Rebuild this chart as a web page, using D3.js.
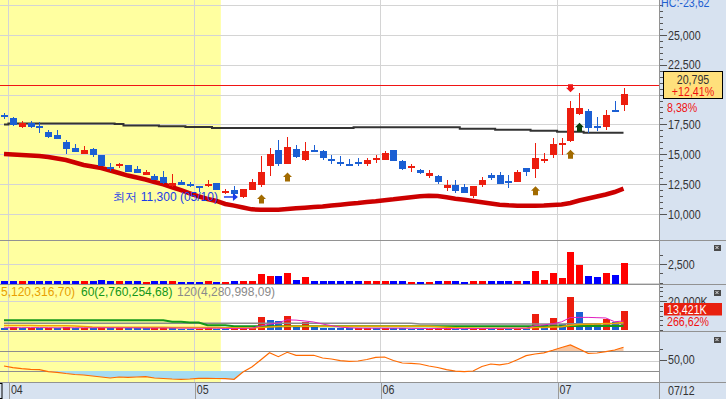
<!DOCTYPE html>
<html><head><meta charset="utf-8">
<script src="https://cdn.jsdelivr.net/npm/d3@7/dist/d3.min.js"></script>
<style>
html,body{margin:0;padding:0;background:#fff;}
svg{display:block;}
text{font-family:"Liberation Sans",Arial,sans-serif;}
</style></head><body>
<svg id="chart" width="726" height="399"></svg>
<script>
// ---------------- DATA ----------------
const opens = [18300,18000,17300,17650,17400,16900,16650,16050,15550,15000,
  15450,14900,13950,14000,14100,13750,13300,13200,13100,12350,
  12700,12550,12350,12350,12600,11750,12000,11450,12000,12450,
  14050,15350,14150,15450,14550,15350,15300,14600,14350,14200,
  14350,14200,14550,14500,15350,14450,13950,13700,13200,13200,
  12200,12450,12250,11500,12450,13250,13250,12750,12700,13850,
  13750,14450,14900,15800,16100,18400,18650,17350,17300,18700,
  19150];
const highs = [18450,18150,17800,17750,17700,17050,17050,16200,15850,15700,
  15550,14900,14250,14250,14100,14000,13700,13350,13600,13350,
  12850,12700,12350,12850,12600,12100,12350,12100,12900,14850,
  15550,16200,16450,15800,16050,15800,15350,14900,14850,14600,
  14700,14700,14900,15300,15400,14500,14200,13750,13700,13250,
  12850,12850,12500,12350,13100,13400,13500,13250,13700,13850,
  15950,15100,16350,16350,19450,20150,18800,18100,18700,19450,
  20550];
const lows = [17950,17350,17200,17200,16750,16400,16300,15000,15200,15000,
  14800,14000,13600,13850,13550,13400,13300,12850,12550,12300,
  12400,12300,11850,12300,12050,11700,11450,11300,12000,12300,
  13200,14050,14150,14700,14450,15150,14550,14150,14050,14050,
  14050,14050,14250,14500,14450,13700,13500,13350,13050,12550,
  11950,11800,11750,11350,12250,12850,12500,12200,12700,13200,
  13000,14250,14700,14950,16050,18300,16800,16950,17050,18500,
  18650];
const closes = [18100,17450,17600,17300,17200,16450,16300,15450,15200,15350,
  14900,14000,13850,14150,13550,13450,13550,12850,12600,12600,
  12450,12400,12250,12550,12050,11950,11700,12100,12700,13500,
  15000,14200,15650,14800,15300,15200,14650,14450,14150,14100,
  14150,14500,14650,15100,14450,13800,14050,13450,13450,12700,
  12450,11950,11800,12350,12850,13000,12500,12600,13500,13500,
  14700,14600,15850,15950,18900,18900,17200,17200,18300,18500,
  20050];
// long moving average (dark line)
const maLong = [17500,17580,17580,17580,17580,17580,17580,17580,17580,17580,
  17580,17580,17580,17540,17400,17400,17400,17400,17350,17350,
  17350,17280,17280,17280,17200,17200,17200,17200,17200,17200,
  17200,17200,17200,17200,17200,17200,17200,17200,17200,17200,
  17260,17260,17260,17260,17260,17260,17260,17260,17260,17260,
  17260,17260,17140,17140,17140,17140,17060,17060,17060,17060,
  16980,16980,16980,16890,16890,16890,16810,16810,16810,16810,
  16810];
// thick red line
const maRed = [15020,14980,14940,14900,14860,14770,14650,14520,14310,14100,
  13980,13850,13640,13430,13220,13060,12890,12680,12490,12240,
  11990,11730,11480,11260,11090,10840,10700,10540,10390,10360,
  10360,10360,10420,10480,10530,10590,10630,10710,10780,10860,
  10920,11000,11070,11160,11230,11320,11400,11480,11520,11510,
  11400,11280,11190,11090,10980,10880,10780,10730,10700,10700,
  10700,10710,10750,10800,10920,11130,11300,11470,11630,11840,
  12120];
const volume = [270,270,270,270,270,270,270,270,270,270,
  270,400,270,270,270,270,140,270,270,270,
  140,140,140,270,140,140,270,270,270,1200,
  900,900,1340,400,800,270,270,270,270,270,
  270,270,270,270,270,270,140,140,140,270,
  270,270,140,270,270,270,270,270,270,270,
  1600,400,1340,670,4100,2400,940,800,1340,1070,
  2670];
const tradeValue = [1600,2100,1500,1700,1400,1500,1300,2000,1400,1600,
  1300,2000,1300,1500,1400,1300,1200,1300,1600,1400,
  1000,900,1000,1400,1000,900,1200,1300,1700,8970,
  6900,6200,9860,2760,5310,2550,1500,1300,1200,1100,
  1200,1300,1100,1400,1300,1200,800,700,800,1100,
  1200,1000,700,1100,1300,1200,1300,1100,1200,1100,
  11030,3240,8280,4140,22760,12410,4140,4100,7790,5520,
  13421];
const tvMa5 = [1500,1550,1600,1650,1650,1600,1500,1550,1550,1550,
  1500,1550,1550,1500,1500,1450,1350,1350,1400,1350,
  1300,1250,1200,1250,1250,1100,1100,1150,1250,2800,
  4000,5000,7000,6800,6200,5500,4100,3000,2000,1500,
  1300,1250,1250,1250,1250,1250,1150,1050,1000,1000,
  1000,950,950,1000,1050,1100,1100,1200,1200,1200,
  3000,3500,4300,5600,8600,8700,8700,8500,8300,5700,
  6200];
const tvMa20 = [3100,3100,3100,3050,3000,3000,2950,2900,2800,2400,
  2000,1950,1900,1900,1900,1850,1850,1850,1850,1800,
  1800,1750,1750,1700,1650,1600,1550,1500,1450,1800,
  2100,2350,2600,2650,2650,2650,2650,2650,2650,2650,
  2650,2650,2600,2600,2600,2600,2550,2550,2550,2300,
  1900,1600,1350,1300,1250,1250,1200,1200,1200,1200,
  1700,1800,2100,2250,3300,3850,3950,4100,4400,4600,
  5120];
const tvMa60 = [6700,6700,6700,6700,6700,6700,6700,6700,6700,6700,
  6700,6700,6700,6700,6700,6700,6700,6700,6700,5700,
  5700,5200,5200,3250,3250,3250,2550,2550,2550,2550,
  2550,2550,2550,2550,2550,2550,2550,2550,2550,2550,
  2550,2550,2550,2550,2550,2550,2550,2550,2550,2550,
  2550,2550,2550,2550,2550,2550,2550,2550,2550,2550,
  2600,2620,2640,2660,2700,2720,2730,2740,2750,2755,
  2760];
const tvMa120 = [4600,4600,4600,4600,4600,4600,4600,4600,4600,4600,
  4600,4600,4600,4600,4600,4600,4600,4600,4600,4600,
  4600,4600,4600,4600,4600,4600,4600,4600,4600,4600,
  4600,4600,4600,4600,4600,4600,4600,4600,4600,4600,
  4600,4600,4600,4600,4600,4600,4600,4150,4150,4150,
  4150,4150,4150,4150,4150,4150,4150,4150,4150,4150,
  4180,4190,4200,4210,4250,4260,4265,4270,4275,4278,
  4281];
const oscillator = [40,36.6,34.6,33.4,32.6,28.6,27.4,25,23,22,
  20,18,16,18,17.4,18,18.6,16,15,14,
  13.4,14,15.4,15.4,15,14.6,13.4,28,38,52,
  66.6,58.6,67.4,61.4,61.4,61.4,56,54,50.6,49.4,
  50,53,57.4,58,51,46,45.4,44,40,37,
  32.6,29.6,28.6,30,39,44,42.4,45,52.6,60.6,
  64,66.4,71.4,77,82,74,65.4,66,68.6,72,
  77.4];
const monthTicks = [0.5, 21.5, 42.5, 62.5];
const monthLabels = ["04","05","06","07"];
const lastDateLabel = "07/12";
const priceTicks = [10000,12500,15000,17500,20000,22500,25000];
const priceGrid = [10000,12500,15000,17500,20000,22500,25000,27500];
const crossPrice = 20795;
const lowDateLabel = "05/10";
const buyArrows = [29, 32, 60, 64];
const greenArrows = [65];
const sellArrows = [64];
const shadedUntil = 24.5;
const hcLabel = "HC:-23,62";
const vmaLegend = [
  {text:"5,120,316,70)", color:"#e8a000", x:1},
  {text:"60(2,760,254,68)", color:"#13961a", x:81},
  {text:"120(4,280,998,09)", color:"#8a8a8a", x:177}
];
const vmaRatioLabel = "266,62%";

// ---------------- SETUP ----------------
const svg = d3.select('#chart');
const W = 726, H = 399, PW = 659;
const UP = '#ec1d0e', DN = '#1b5fd3';
const VUP = '#ff0000', VDN = '#0000ff';
const GRID = '#d4d4d4', BORDER = '#929292', AXBG = '#d7e2f0';
const n = closes.length;

const x = d3.scaleLinear().domain([0, n - 1]).range([4, 623.5]);
const yP = d3.scaleLinear().domain([10000, 27500]).range([214, 5]);
const yV = d3.scaleLinear().domain([0, 2500]).range([282.7, 264]);
const yT = d3.scaleLinear().domain([0, 20000]).range([330, 301]);
const yO = d3.scaleLinear().domain([30, 70]).range([371, 351]);

const fmt = d3.format(",");
const dec2 = v => v.toFixed(2).replace('.', ',');
const SX = 0.82;
function squashAxis(g, sx) {
  g.selectAll('text').each(function () {
    const t = d3.select(this);
    const x0 = +t.attr('x') || 0;
    t.attr('x', x0 / sx).attr('transform', `scale(${sx},1)`);
  });
}
function sqText(g, tx, ty, str, o = {}) {
  const sx = o.sx ?? SX;
  return g.append('text')
    .attr('transform', `translate(${tx},${ty}) scale(${sx},1)`)
    .attr('font-size', o.size || 13)
    .attr('fill', o.color || '#333')
    .attr('text-anchor', o.anchor || 'start')
    .attr('dy', o.dy || '0.35em')
    .text(str);
}

// backgrounds
svg.append('rect').attr('x', 0).attr('y', 0).attr('width', W).attr('height', H).attr('fill', '#fff');
svg.append('rect').attr('x', PW).attr('y', 0).attr('width', W - PW).attr('height', H).attr('fill', AXBG);
svg.append('rect').attr('x', 0).attr('y', 382).attr('width', PW).attr('height', H - 382).attr('fill', AXBG);
svg.append('rect').attr('x', 0).attr('y', 0).attr('width', x(shadedUntil)).attr('height', 382).attr('fill', '#ffffa0');

const plot = svg.append('g');
const crisp = {'shape-rendering': 'crispEdges'};

// grid lines
plot.selectAll('.hg').data(priceGrid).join('line')
  .attr('x1', 0).attr('x2', PW)
  .attr('y1', d => Math.round(yP(d)) + 0.5).attr('y2', d => Math.round(yP(d)) + 0.5)
  .attr('stroke', GRID).attr('shape-rendering', 'crispEdges');
plot.selectAll('.vg').data(monthTicks).join('line')
  .attr('x1', d => Math.round(x(d)) + 0.5).attr('x2', d => Math.round(x(d)) + 0.5)
  .attr('y1', 0).attr('y2', 382)
  .attr('stroke', GRID).attr('shape-rendering', 'crispEdges');
// volume grid
[yV(2500), yV(0)].forEach(v => plot.append('line').attr('x1', 0).attr('x2', PW)
  .attr('y1', Math.round(v) + 0.5).attr('y2', Math.round(v) + 0.5).attr('stroke', GRID).attr('shape-rendering', 'crispEdges'));
plot.append('line').attr('x1', 0).attr('x2', PW).attr('y1', Math.round(yT(20000)) + 0.5).attr('y2', Math.round(yT(20000)) + 0.5)
  .attr('stroke', GRID).attr('shape-rendering', 'crispEdges');
// oscillator levels
[[70, '#8e8e8e'], [50, '#cfcfcf'], [30, '#8e8e8e']].forEach(([v, c]) =>
  plot.append('line').attr('x1', 0).attr('x2', PW).attr('y1', Math.round(yO(v)) + 0.5).attr('y2', Math.round(yO(v)) + 0.5)
    .attr('stroke', c).attr('shape-rendering', 'crispEdges'));

// ---------------- MAIN PRICE ----------------
const idx = d3.range(n);
const clip = svg.append('defs');
clip.append('clipPath').attr('id', 'plotclip').append('rect').attr('x', 0).attr('y', 0).attr('width', PW).attr('height', 382);

const main = svg.append('g').attr('clip-path', 'url(#plotclip)');

// current price line
main.append('line').attr('x1', 0).attr('x2', PW)
  .attr('y1', Math.round(yP(crossPrice)) + 0.5).attr('y2', Math.round(yP(crossPrice)) + 0.5)
  .attr('stroke', '#f01414').attr('stroke-width', 1).attr('shape-rendering', 'crispEdges');

// dark long MA
main.append('path').datum(idx)
  .attr('d', d3.line().x(i => x(i)).y(i => yP(maLong[i])).curve(d3.curveStep))
  .attr('fill', 'none').attr('stroke', '#333').attr('stroke-width', 2);
// thick red MA
main.append('path').datum(idx)
  .attr('d', d3.line().x(i => x(i)).y(i => yP(maRed[i])))
  .attr('fill', 'none').attr('stroke', '#cc0000').attr('stroke-width', 4.5);

// candles
const cg = main.append('g');
idx.forEach(i => {
  const up = closes[i] >= opens[i];
  const col = up ? UP : DN;
  const cx = Math.round(x(i));
  cg.append('line').attr('x1', cx + 0.5).attr('x2', cx + 0.5)
    .attr('y1', yP(highs[i])).attr('y2', yP(lows[i]))
    .attr('stroke', col).attr('stroke-width', 1).attr('shape-rendering', 'crispEdges');
  const top = yP(Math.max(opens[i], closes[i]));
  const bot = yP(Math.min(opens[i], closes[i]));
  cg.append('rect').attr('x', cx - 3).attr('y', Math.round(top))
    .attr('width', 7).attr('height', Math.max(1.5, Math.round(bot) - Math.round(top)))
    .attr('fill', col).attr('shape-rendering', 'crispEdges');
});

// signal arrows
function upArrow(cx, tip) {
  return `M${cx},${tip}L${cx + 4.5},${tip + 4.5}L${cx + 2.5},${tip + 4.5}L${cx + 2.5},${tip + 9}L${cx - 2.5},${tip + 9}L${cx - 2.5},${tip + 4.5}L${cx - 4.5},${tip + 4.5}Z`;
}
function downArrow(cx, tip) {
  return `M${cx},${tip}L${cx - 4.5},${tip - 4.5}L${cx - 2.5},${tip - 4.5}L${cx - 2.5},${tip - 8}L${cx + 2.5},${tip - 8}L${cx + 2.5},${tip - 4.5}L${cx + 4.5},${tip - 4.5}Z`;
}
buyArrows.forEach(i => main.append('path').attr('d', upArrow(Math.round(x(i)) + 0.5, yP(lows[i]) + 8)).attr('fill', '#a26b00'));
greenArrows.forEach(i => main.append('path').attr('d', upArrow(Math.round(x(i)) + 0.5, yP(lows[i]) + 8)).attr('fill', '#0b3d0b'));
sellArrows.forEach(i => main.append('path').attr('d', downArrow(Math.round(x(i)) + 0.5, yP(highs[i]) - 9)).attr('fill', '#f01818'));

// lowest price label
const lowIdx = d3.minIndex(lows);
const lowVal = lows[lowIdx];
const ly = yP(lowVal) - 1.5;
const ax1 = x(lowIdx) - 19, ax2 = x(lowIdx) - 5;
main.append('line').attr('x1', ax1).attr('x2', ax2 - 4).attr('y1', ly).attr('y2', ly).attr('stroke', '#1a3ce8').attr('stroke-width', 1.5);
main.append('path').attr('d', `M${ax2},${ly}L${ax2 - 5},${ly - 4}L${ax2 - 5},${ly + 4}Z`).attr('fill', '#1a3ce8');
main.append('text').attr('x', ax1 - 6).attr('y', ly).attr('dy', '0.35em')
  .attr('text-anchor', 'end').attr('font-size', 12)
  .attr('font-family', '"Noto Sans CJK KR", sans-serif')
  .attr('fill', '#1a3ce8')
  .text(`최저 ${fmt(lowVal)} (${lowDateLabel})`);

// ---------------- VOLUME ----------------
const vg = main.append('g');
idx.forEach(i => {
  const up = closes[i] >= opens[i];
  const cx = Math.round(x(i));
  const top = Math.round(yV(volume[i]));
  vg.append('rect').attr('x', cx - 3).attr('y', top).attr('width', 7)
    .attr('height', Math.max(1, Math.round(yV(0)) - top + 0.5))
    .attr('fill', up ? VUP : VDN).attr('shape-rendering', 'crispEdges');
});

// ---------------- TRADE VALUE ----------------
const tg = main.append('g');
idx.forEach(i => {
  const up = i > 0 && tradeValue[i] >= tradeValue[i - 1];
  const cx = Math.round(x(i));
  const top = Math.round(yT(tradeValue[i]));
  tg.append('rect').attr('x', cx - 3).attr('y', top).attr('width', 7)
    .attr('height', Math.max(1, Math.round(yT(0)) - top))
    .attr('fill', up ? UP : DN).attr('shape-rendering', 'crispEdges');
});
[[tvMa120, '#8a8a8a', 1.5], [tvMa60, '#13961a', 2], [tvMa20, '#f0a800', 1.5], [tvMa5, '#e020c0', 1]].forEach(([arr, c, w]) => {
  tg.append('path').datum(idx)
    .attr('d', d3.line().x(i => x(i)).y(i => yT(arr[i])))
    .attr('fill', 'none').attr('stroke', c).attr('stroke-width', w);
});
vmaLegend.forEach(l => main.append('text').attr('x', l.x).attr('y', 292).attr('dy', '0.35em')
  .attr('font-size', 12).attr('fill', l.color).text(l.text));

// ---------------- OSCILLATOR ----------------
const og = main.append('g');
clip.append('clipPath').attr('id', 'below30').append('rect').attr('x', 0).attr('y', yO(30)).attr('width', PW).attr('height', 382 - yO(30));
clip.append('clipPath').attr('id', 'above70').append('rect').attr('x', 0).attr('y', 331).attr('width', PW).attr('height', yO(70) - 331);
og.append('path').datum(idx).attr('clip-path', 'url(#below30)')
  .attr('d', d3.area().x(i => x(i)).y0(yO(30)).y1(i => yO(oscillator[i])))
  .attr('fill', '#a6dcf2');
og.append('path').datum(idx).attr('clip-path', 'url(#above70)')
  .attr('d', d3.area().x(i => x(i)).y0(yO(70)).y1(i => yO(oscillator[i])))
  .attr('fill', '#f9c7a2');
og.append('path').datum(idx)
  .attr('d', d3.line().x(i => x(i)).y(i => yO(oscillator[i])))
  .attr('fill', 'none').attr('stroke', '#ff6a00').attr('stroke-width', 1.2);

// ---------------- PANEL BORDERS ----------------
[240, 284, 331, 382].forEach(yy => svg.append('line').attr('x1', 0).attr('x2', W)
  .attr('y1', yy + 0.5).attr('y2', yy + 0.5).attr('stroke', BORDER).attr('stroke-width', 1.2).attr('shape-rendering', 'crispEdges'));
svg.append('line').attr('x1', PW + 0.5).attr('x2', PW + 0.5).attr('y1', 0).attr('y2', H)
  .attr('stroke', BORDER).attr('stroke-width', 1.2).attr('shape-rendering', 'crispEdges');

// ---------------- AXES ----------------
function styleAxis(g) {
  g.select('.domain').remove();
  g.selectAll('line').attr('stroke', '#555').attr('shape-rendering', 'crispEdges');
  g.selectAll('text').attr('fill', '#333').attr('font-size', 13).attr('font-family', '"Liberation Sans",Arial,sans-serif');
}
const curY = yP(crossPrice);
// price axis minor
const pMinor = svg.append('g').attr('transform', `translate(${PW + 1},0)`)
  .call(d3.axisRight(yP).tickValues(d3.range(10000, 27501, 500)).tickSize(3).tickFormat(''));
styleAxis(pMinor);
const pAxis = svg.append('g').attr('transform', `translate(${PW + 1},0)`)
  .call(d3.axisRight(yP).tickValues(priceTicks).tickSize(7).tickPadding(1)
    .tickFormat(d => Math.abs(yP(d) - curY) < 16 ? '' : fmt(d)));
styleAxis(pAxis); squashAxis(pAxis, SX);

// volume axis
const vMinor = svg.append('g').attr('transform', `translate(${PW + 1},0)`)
  .call(d3.axisRight(yV).tickValues([0, 1250, 2500, 3750]).tickSize(3).tickFormat(''));
styleAxis(vMinor);
const vAxis = svg.append('g').attr('transform', `translate(${PW + 1},0)`)
  .call(d3.axisRight(yV).tickValues([2500]).tickSize(7).tickPadding(1).tickFormat(fmt));
styleAxis(vAxis); squashAxis(vAxis, SX);

// trade value axis
const tMinor = svg.append('g').attr('transform', `translate(${PW + 1},0)`)
  .call(d3.axisRight(yT).tickValues(d3.range(0, 30001, 20000 / 6)).tickSize(3).tickFormat(''));
styleAxis(tMinor);
tMinor.selectAll('.tick').filter(d => yT(d) < 285).remove();
const tAxis = svg.append('g').attr('transform', `translate(${PW + 1},0)`)
  .call(d3.axisRight(yT).tickValues([20000]).tickSize(7).tickPadding(1).tickFormat(d => fmt(d) + 'K'));
styleAxis(tAxis); squashAxis(tAxis, SX);

// oscillator axis
const oMinor = svg.append('g').attr('transform', `translate(${PW + 1},0)`)
  .call(d3.axisRight(yO).tickValues([75]).tickSize(3).tickFormat(''));
styleAxis(oMinor);
const oAxis = svg.append('g').attr('transform', `translate(${PW + 1},-1.5)`)
  .call(d3.axisRight(yO).tickValues([50]).tickSize(7).tickPadding(1).tickFormat(dec2));
styleAxis(oAxis); squashAxis(oAxis, SX);

// x axis
const xAxis = svg.append('g').attr('transform', 'translate(0,382)')
  .call(d3.axisBottom(x).tickValues(monthTicks).tickSizeInner(17).tickSizeOuter(0)
    .tickFormat((d, i) => monthLabels[i]));
xAxis.select('.domain').remove();
xAxis.selectAll('line').attr('stroke', '#9a9a9a').attr('shape-rendering', 'crispEdges')
  .attr('transform', function () { return 'translate(0.5,0)'; });
xAxis.selectAll('text').attr('text-anchor', 'start').attr('y', 3).attr('dy', '0.71em')
  .attr('fill', '#333').attr('font-size', 13);
xAxis.selectAll('text').each(function () {
  d3.select(this).attr('x', 2 / SX).attr('transform', `scale(${SX},1)`);
});
sqText(svg, 668, 390, lastDateLabel);
svg.append('rect').attr('x', -3).attr('y', 383.5).attr('width', 5).attr('height', 15)
  .attr('fill', 'none').attr('stroke', '#000').attr('stroke-width', 1);

// ---------------- LABELS ON RIGHT ----------------
sqText(svg, 661, 2, hcLabel, {color: '#1f5fd0'});
const prev = closes[n - 2], last = closes[n - 1];
const pctCross = (crossPrice / prev - 1) * 100;
const pctLast = (last / prev - 1) * 100;
svg.append('rect').attr('x', 663.5).attr('y', 71.5).attr('width', 59).attr('height', 27)
  .attr('fill', '#ffe07c').attr('stroke', '#000').attr('stroke-width', 1);
sqText(svg, 693, 79, fmt(crossPrice), {anchor: 'middle', color: '#333'});
sqText(svg, 693, 91, '+' + dec2(pctCross) + '%', {anchor: 'middle', color: '#f01010'});
sqText(svg, 667, 107, dec2(pctLast) + '%', {color: '#f01010'});

svg.append('rect').attr('x', 664).attr('y', 303).attr('width', 58).attr('height', 12.5).attr('fill', '#e8200f');
sqText(svg, 667, 309.5, fmt(tradeValue[n - 1]) + 'K', {color: '#fff'});
sqText(svg, 667, 321.5, vmaRatioLabel, {color: '#f01010'});

// close icons
[244, 289, 336].forEach(yy => {
  svg.append('rect').attr('x', 713.5).attr('y', yy + 0.5).attr('width', 7).attr('height', 6).attr('fill', '#4a4a4a').attr('shape-rendering', 'crispEdges');
  svg.append('path').attr('d', `M${715.5},${yy + 2}L${718.5},${yy + 5}M${718.5},${yy + 2}L${715.5},${yy + 5}`)
    .attr('stroke', '#fff').attr('stroke-width', 0.8);
});
</script>
</body></html>
